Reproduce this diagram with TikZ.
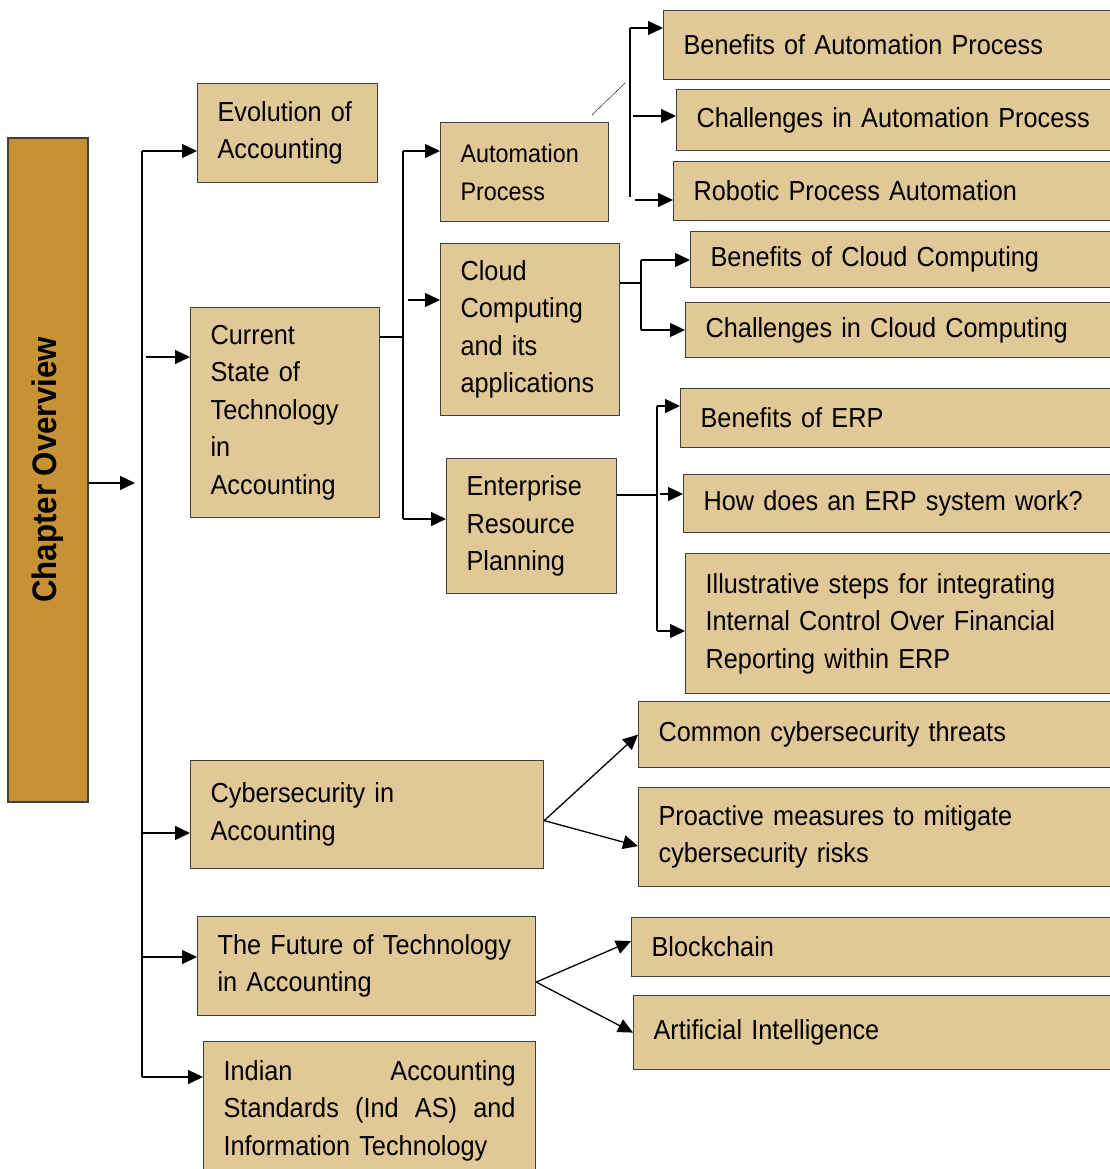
\documentclass[tikz,border=0pt]{standalone}
\usepackage{fontspec}
\setmainfont{Liberation Sans}[FakeStretch=0.92]
\usetikzlibrary{arrows.meta}
\definecolor{boxtan}{RGB}{225,200,151}
\definecolor{chapgold}{RGB}{198,146,51}

\begin{document}
\begin{tikzpicture} [x=1pt, y=-1pt]
    \tikzstyle{every node} = [align=left]
    \tikzstyle{topic} = [draw=black!75, line width=1.2pt, fill=boxtan, anchor=north west,
        inner xsep=20pt, inner ysep=0pt, font=\fontsize{27.5}{37.5}\selectfont]
    \tikzstyle{chapter} = [draw=black!75, line width=1.2pt, fill=chapgold, rotate=90,
        font=\bfseries\fontsize{34}{40}\selectfont]
    \tikzstyle{line} = [line width=1.3pt]
    \tikzstyle{link} = [line width=1.3pt, -{Triangle[length=15pt,width=14pt]}]
    \useasboundingbox (0,0) rectangle (1109,1169);

    % left column
    \node [chapter, minimum width=664pt, minimum height=80pt] (chap) at (48,470) {Chapter Overview};
    \node [topic, minimum width=180pt, minimum height=99pt, text width=140pt] (evo) at (197,83) {Evolution of\\Accounting};
    \node [topic, minimum width=189pt, minimum height=210pt, text width=149pt] (cur) at (190,307) {Current\\State of\\Technology\\in\\Accounting};
    \node [topic, minimum width=353pt, minimum height=108pt, text width=313pt] (cyb) at (190,760) {Cybersecurity in\\Accounting};
    \node [topic, minimum width=338pt, minimum height=99pt, text width=298pt] (fut) at (197,916) {The Future of Technology\\in Accounting};
    \node [topic, minimum width=332pt, minimum height=138pt, text width=292pt, inner xsep=20pt] (ind) at (203,1041)
        {Indian\hfill Accounting\\Standards\hfill (Ind\hfill AS)\hfill and\\Information Technology};

    % middle column
    \node [topic, minimum width=168pt, minimum height=99pt, text width=128pt,
        font=\fontsize{25.4}{38}\selectfont] (auto) at (440,122) {Automation\\Process};
    \node [topic, minimum width=179pt, minimum height=172pt, text width=139pt] (cloud) at (440,243) {Cloud\\Computing\\and its\\applications};
    \node [topic, minimum width=170pt, minimum height=135pt, text width=130pt] (erp) at (446,458) {Enterprise\\Resource\\Planning};

    % right column
    \node [topic, minimum width=462pt, minimum height=69pt, text width=422pt] (benauto) at (663,10) {Benefits of Automation Process};
    \node [topic, minimum width=449pt, minimum height=61pt, text width=409pt] (chalauto) at (676,89) {Challenges in Automation Process};
    \node [topic, minimum width=452pt, minimum height=59pt, text width=412pt] (rpa) at (673,161) {Robotic Process Automation};
    \node [topic, minimum width=435pt, minimum height=56pt, text width=395pt] (bencloud) at (690,231) {Benefits of Cloud Computing};
    \node [topic, minimum width=440pt, minimum height=55pt, text width=400pt] (chalcloud) at (685,302) {Challenges in Cloud Computing};
    \node [topic, minimum width=445pt, minimum height=59pt, text width=405pt] (benerp) at (680,388) {Benefits of ERP};
    \node [topic, minimum width=442pt, minimum height=58pt, text width=402pt] (howerp) at (683,474) {How does an ERP system work?};
    \node [topic, minimum width=440pt, minimum height=140pt, text width=400pt] (icfr) at (685,553)
        {Illustrative steps for integrating\\Internal Control Over Financial\\Reporting within ERP};
    \node [topic, minimum width=487pt, minimum height=66pt, text width=447pt] (threat) at (638,701) {Common cybersecurity threats};
    \node [topic, minimum width=487pt, minimum height=99pt, text width=447pt] (proact) at (638,787)
        {Proactive measures to mitigate\\cybersecurity risks};
    \node [topic, minimum width=494pt, minimum height=59pt, text width=454pt] (chain) at (631,917) {Blockchain};
    \node [topic, minimum width=492pt, minimum height=74pt, text width=452pt] (ai) at (633,995) {Artificial Intelligence};

    % main trunk
    \coordinate (m0) at (142,483);
    \coordinate (m1) at (142,151);
    \coordinate (m2) at (142,357);
    \coordinate (m3) at (142,833);
    \coordinate (m4) at (142,957);
    \coordinate (m5) at (142,1077);
    \draw [link] (chap.south |- m0) -- ([xshift=-7pt]m0);
    \draw [line] (m1) -- (m5);
    \draw [link] (m1) -- (m1 -| evo.west);
    \draw [link] ([xshift=4pt]m2) -- (m2 -| cur.west);
    \draw [link] (m3) -- (m3 -| cyb.west);
    \draw [link] (m4) -- (m4 -| fut.west);
    \draw [link] (m5) -- (m5 -| ind.west);

    % technology branch
    \coordinate (c0) at (403,337);
    \coordinate (c1) at (403,151);
    \coordinate (c2) at (403,300);
    \coordinate (c3) at (403,519);
    \draw [line] (cur.east |- c0) -- (c0);
    \draw [line] (c1) -- (c3);
    \draw [link] (c1) -- (c1 -| auto.west);
    \draw [link] ([xshift=5pt]c2) -- (c2 -| cloud.west);
    \draw [link] (c3) -- (c3 -| erp.west);

    % automation
    \coordinate (s1) at (592,115);
    \coordinate (s2) at (625,83);
    \draw (s1) -- (s2);
    \coordinate (a1) at (630,28);
    \coordinate (a2) at (630,116);
    \coordinate (a3) at (630,200);
    \draw [line] (a1) -- ([yshift=3pt]a3);
    \draw [link] (a1) -- (a1 -| benauto.west);
    \draw [link] ([xshift=3pt]a2) -- (a2 -| chalauto.west);
    \draw [link] ([xshift=5pt]a3) -- (a3 -| rpa.west);

    % cloud
    \coordinate (d0) at (641,283);
    \coordinate (d1) at (641,260);
    \coordinate (d2) at (641,330);
    \draw [line] (cloud.east |- d0) -- (d0);
    \draw [line] (d1) -- (d2);
    \draw [link] (d1) -- (d1 -| bencloud.west);
    \draw [link] (d2) -- (d2 -| chalcloud.west);

    % erp
    \coordinate (e0) at (657,495);
    \coordinate (e1) at (657,406);
    \coordinate (e2) at (657,494);
    \coordinate (e3) at (657,631);
    \draw [line] (erp.east |- e0) -- (e0);
    \draw [line] (e1) -- (e3);
    \draw [link] (e1) -- (e1 -| benerp.west);
    \draw [link] ([xshift=3pt]e2) -- (e2 -| howerp.west);
    \draw [link] (e3) -- (e3 -| icfr.west);

    % cybersecurity and future
    \draw [link] ([yshift=-6pt]cyb.east) -- (threat.west);
    \draw [link] ([yshift=-6pt]cyb.east) -- ([yshift=-9pt]proact.west);
    \draw [link] ([yshift=-16pt]fut.east) -- ([yshift=6pt]chain.west);
    \draw [link] ([yshift=-16pt]fut.east) -- (ai.west);
\end{tikzpicture}
\end{document}
